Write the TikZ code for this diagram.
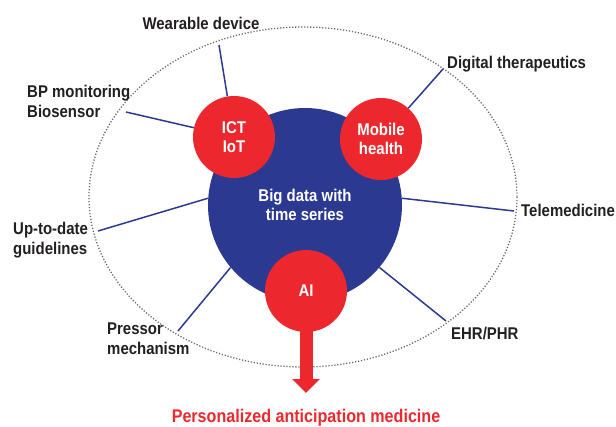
\documentclass[tikz,border=0pt]{standalone}
\usepackage{fontspec}
\setmainfont[FakeStretch=0.88]{Liberation Sans}
\usetikzlibrary{arrows.meta}
\definecolor{hubblue}{RGB}{43,57,144}
\definecolor{hubred}{RGB}{236,40,46}
\definecolor{labelgray}{RGB}{35,31,32}
\definecolor{ringgray}{RGB}{105,105,105}

\begin{document}
\begin{tikzpicture}[x=1pt,y=-1pt]

      \tikzset{hub/.style={circle, fill=hubred, inner sep=0pt, minimum size=82pt, text=white, align=center, font=\fontsize{17}{19}\selectfont\bfseries},
               spoke/.style={hubblue, line width=1.5pt},
               tag/.style={inner sep=0pt, text=labelgray, align=left, font=\fontsize{17}{20}\selectfont\bfseries}}
      \useasboundingbox (0,0) rectangle (616,426);
%% Ring
      \draw[ringgray, line width=1.3pt, dash pattern=on 1.2pt off 1.8pt] (303,197) ellipse [x radius=214, y radius=170];
%% Circles
      \node[hub, fill=hubblue, minimum size=194pt] (big) at (305,205) {Big data with\\time series};
      \node[hub] (ict) at (234,137) {ICT\\IoT};
      \node[hub] (mob) at (381,139) {Mobile\\health};
      \node[hub] (ai) at (306,291) {AI};
      \coordinate (tip) at (306,393);
      \draw[hubred, line width=13pt, -{Triangle[width=27pt, length=14pt]}] ([yshift=2pt]ai.south) -- (tip);
%% Ends on the ring
      \coordinate (wr) at (219,45);
      \coordinate (bp) at (126,112);
      \coordinate (dt) at (443,69);
      \coordinate (tm) at (514,211);
      \coordinate (ud) at (98,231);
      \coordinate (pm) at (178,331);
      \coordinate (eh) at (446,321);
%Spokes
      \draw[spoke] (wr) -- (ict);
      \draw[spoke] (bp) -- (ict);
      \draw[spoke] (dt) -- (mob);
      \draw[spoke] (tm) -- (big.4);
      \draw[spoke] (ud) -- (big.176);
      \draw[spoke] (pm) -- (big.220);
      \draw[spoke] (eh) -- (big.320);
%Labels
      \node[tag, anchor=base] (wdl) at (201,29) {Wearable device};
      \node[tag, anchor=west] (bpl) at (27,101) {BP monitoring\\Biosensor};
      \node[tag, anchor=base west] (dtl) at (447,68) {Digital therapeutics};
      \node[tag, anchor=base west] (tml) at (521,216) {Telemedicine};
      \node[tag, anchor=west] (udl) at (13,240) {Up-to-date\\guidelines};
      \node[tag, anchor=west] (pml) at (107,339) {Pressor\\mechanism};
      \node[tag, anchor=base west] (ehl) at (451,339) {EHR/PHR};
      \node[tag, text=hubred, anchor=base, font=\fontsize{18.3}{20}\selectfont\bfseries] (pam) at (306,422) {Personalized anticipation medicine};

\end{tikzpicture}
\end{document}
